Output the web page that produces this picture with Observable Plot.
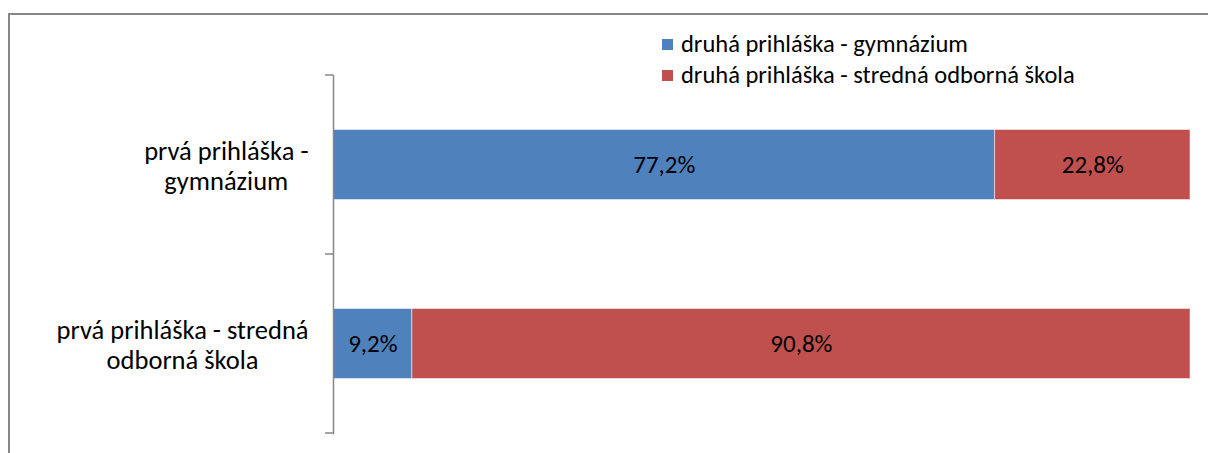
<!DOCTYPE html>
<html>
<head>
<meta charset="utf-8">
<script src="https://cdn.jsdelivr.net/npm/d3@7"></script>
<script src="https://cdn.jsdelivr.net/npm/@observablehq/plot@0.6"></script>
<style>
  html, body { margin: 0; padding: 0; background: #fff; overflow: hidden; }
  #wrap { position: relative; width: 1208px; height: 453px; overflow: hidden; font-family: Carlito, Lato, sans-serif; color: #000; }
  #border { position: absolute; left: 8px; top: 13px; width: 1400px; height: 700px; border: 2px solid #878787; box-sizing: border-box; }
  #chart { position: absolute; left: 0; top: 0; }
  #legend { position: absolute; left: 662px; top: 29px; font-size: 24.5px; line-height: 31px; }
  #legend .row { display: flex; align-items: center; white-space: nowrap; }
  #legend .sw { width: 11px; height: 11px; margin-right: 8px; }
</style>
</head>
<body>
<div id="wrap">
  <div id="border"></div>
  <div id="chart"></div>
  <div id="legend"></div>
</div>
<script>
const categories = ["prvá prihláška - gymnázium", "prvá prihláška - stredná odborná škola"];
const categoryLabels = ["prvá prihláška -\ngymnázium", "prvá prihláška - stredná\nodborná škola"];
const seriesNames = ["druhá prihláška - gymnázium", "druhá prihláška - stredná odborná škola"];
const seriesColors = ["#4F81BD", "#C0504D"];
const gymnaziumValues = [77.2, 9.2];
const sosValues = [22.8, 90.8];

const data = [];
categories.forEach((c, i) => {
  data.push({cat: c, series: seriesNames[0], value: gymnaziumValues[i]});
  data.push({cat: c, series: seriesNames[1], value: sosValues[i]});
});
const fmt = v => v.toFixed(1).replace(".", ",") + "%";
const labelMap = new Map(categories.map((c, i) => [c, categoryLabels[i]]));

function boundaryTicks(index, scales, values, dims) {
  const y = scales.y;
  const bw = typeof y.bandwidth === "function" ? y.bandwidth() : (scales.scales && scales.scales.y ? scales.scales.y.bandwidth : 0);
  const ys = new Set();
  for (const c of categories) { ys.add(y(c)); ys.add(y(c) + bw); }
  const g = d3.create("svg:g").attr("stroke", "#878787").attr("stroke-width", 1.5);
  for (const v of ys) {
    g.append("line").attr("x1", dims.marginLeft - 8).attr("x2", dims.marginLeft).attr("y1", v).attr("y2", v);
  }
  return g.node();
}

const plot = Plot.plot({
  width: 1208,
  height: 453,
  marginLeft: 333,
  marginRight: 18,
  marginTop: 75,
  marginBottom: 20,
  style: {fontFamily: "Carlito, Lato, sans-serif", fontSize: "25px", color: "#000", background: "transparent", overflow: "visible"},
  x: {domain: [0, 100], axis: null},
  y: {domain: categories, padding: 0, axis: null},
  color: {domain: seriesNames, range: seriesColors},
  marks: [
    Plot.barX(data, {x: "value", y: "cat", fill: "series", insetTop: 54.5, insetBottom: 54.5, stroke: "#fff", strokeOpacity: 0.5, strokeWidth: 1}),
    Plot.text(data, Plot.stackX({x: "value", y: "cat", text: d => fmt(d.value), fill: "#000", fontSize: 25})),
    Plot.axisY({tickSize: 0, tickPadding: 25, tickFormat: d => labelMap.get(d), label: null, fontSize: 26.5, lineHeight: 1.13, fill: "#000"}),
    Plot.frame({anchor: "left", stroke: "#878787", strokeWidth: 1.5}),
    boundaryTicks
  ]
});
document.getElementById("chart").appendChild(plot);

// center multi-line tick labels like the reference (right edge kept)
plot.querySelectorAll('g[aria-label="y-axis tick label"] text').forEach(t => {
  const w = t.getBBox().width;
  t.setAttribute("text-anchor", "middle");
  t.setAttribute("transform", (t.getAttribute("transform") || "") + ` translate(${-w / 2},0)`);
});

const legend = document.getElementById("legend");
seriesNames.forEach((s, i) => {
  const row = document.createElement("div");
  row.className = "row";
  const sw = document.createElement("div");
  sw.className = "sw";
  sw.style.background = seriesColors[i];
  const lab = document.createElement("span");
  lab.textContent = s;
  row.appendChild(sw); row.appendChild(lab);
  legend.appendChild(row);
});
</script>
</body>
</html>
